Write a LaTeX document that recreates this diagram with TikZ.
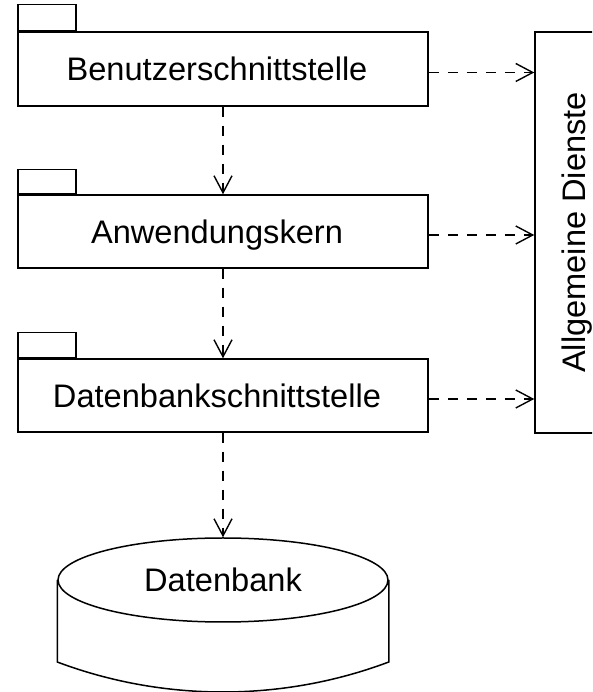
\documentclass[tikz,border=0pt]{standalone}
\usepackage{fontspec}
\setmainfont{Liberation Sans}
\usetikzlibrary{arrows.meta,shapes.geometric,calc}
\begin{document}
\begin{tikzpicture}[x=1pt,y=1pt,
  lbl/.style={font=\fontsize{32.6}{39}\selectfont, text height=23.3pt, text depth=0pt},
  pkg/.style={draw, line width=1.5pt, fill=white, minimum width=410pt, minimum height=73pt, inner sep=0pt, lbl},
  tabbox/.style={draw, line width=1.5pt, fill=white, minimum width=58pt, minimum height=25pt, inner sep=0pt, anchor=south west},
  dep/.style={draw, line width=1.4pt, dash pattern=on 10pt off 9pt, -{Straight Barb[length=17pt,width=18pt,line width=1.4pt]}},
]
\clip (0,0) rectangle (592,692);
\fill[white] (0,0) rectangle (592,692);

% packages
\node[pkg, minimum height=74pt] (b1) at (223,623) {\hspace*{-12pt}Benutzerschnittstelle};
\node[tabbox, minimum height=26pt] (t1) at (b1.north west) {};
\node[pkg] (b2) at (223,460.5) {\hspace*{-12pt}Anwendungskern};
\node[tabbox, minimum height=24pt] (t2) at (b2.north west) {};
\node[pkg] (b3) at (223,296.5) {\hspace*{-12pt}Datenbankschnittstelle};
\node[tabbox] (t3) at (b3.north west) {};

% right box
\node[draw, line width=1.5pt, fill=white, minimum width=401pt, minimum height=77pt, inner sep=0pt, rotate=90, lbl] (ad) at (573.5,459.5) {Allgemeine Dienste};

% database
\node[ellipse, draw, line width=1.5pt, fill=white, minimum width=330pt, minimum height=84pt, inner sep=0pt, lbl] (db) at (223,112) {Datenbank};
\coordinate (dbl) at ($(db.west)+(0,-82)$);
\coordinate (dbr) at ($(db.east)+(0,-82)$);
\draw[line width=1.5pt] (db.west) -- (dbl) .. controls +(106.3,-40) and +(-106.3,-40) .. (dbr) -- (db.east);

% dependencies
\draw[dep] (b1.south) -- (b2.north);
\draw[dep] (b2.south) -- (b3.north);
\draw[dep] (b3.south) -- (db.north);
\draw[dep] ([yshift=-3.5pt]b1.east) -- ([yshift=-3.5pt]b1.east -| ad.north);
\draw[dep] ([yshift=-3.5pt]b2.east) -- ([yshift=-3.5pt]b2.east -| ad.north);
\draw[dep] ([yshift=-3.5pt]b3.east) -- ([yshift=-3.5pt]b3.east -| ad.north);
\end{tikzpicture}
\end{document}
